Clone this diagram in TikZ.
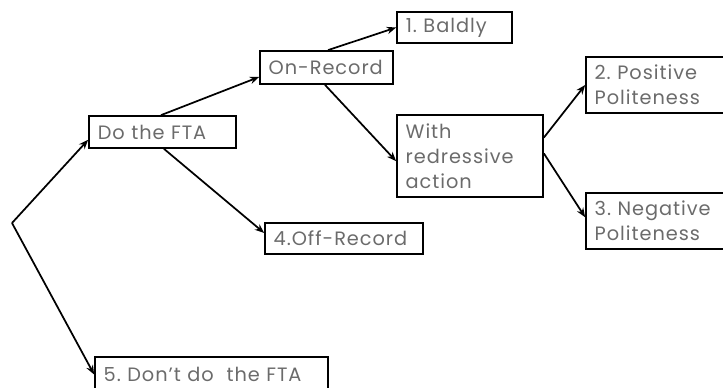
\documentclass[tikz,border=0pt]{standalone}
\usepackage{fontspec}
\setmainfont{Poppins}[LetterSpace=5]
\usepackage{tikz}
\usetikzlibrary{arrows.meta}
\frenchspacing

\tikzset{
  strat/.style={draw=black, line width=1.3pt, rectangle, align=left, inner xsep=6.5pt, inner ysep=0pt,
    text=black!58, font=\fontsize{14.5}{18.75}\selectfont},
  branch/.style={draw=black, line width=1.3pt, -{Stealth[length=7pt, width=5.5pt]}}
}

\begin{document}
\begin{tikzpicture}[x=0.75pt, y=-0.75pt]
            \useasboundingbox (0,0) rectangle (723,388);
            \coordinate (root) at (12, 223);
            \node[strat, minimum width=110.25pt, minimum height=24pt, text width=97pt] (dofta) at (162.5, 132) {Do the FTA};
            \node[strat, minimum width=99.75pt, minimum height=24.75pt, text width=86.75pt] (onrec) at (326.5, 67.5) {\mbox{On-Record}};
            \node[strat, minimum width=86.25pt, minimum height=23.25pt, text width=73pt] (baldly) at (454.5, 27.5) {1. Baldly};
            \node[strat, minimum width=109.5pt, minimum height=61.5pt, text width=96.5pt] (redress) at (470, 156) {With\\redressive\\action};
            \node[strat, minimum width=106.5pt, minimum height=42pt, text width=93.5pt] (pos) at (657, 85) {2. Positive\\Politeness};
            \node[strat, minimum width=106.5pt, minimum height=42pt, text width=93.5pt] (neg) at (657, 221) {3. Negative\\Politeness};
            \node[strat, minimum width=118.5pt, minimum height=23.25pt, text width=105.5pt] (offrec) at (344, 238.5) {\mbox{4.Off-Record}};
            \node[strat, minimum width=174.75pt, minimum height=26.25pt, text width=161.75pt] (dont) at (211.5, 374.5) {5. Don't do\ \ the FTA};

            \draw[branch] (root) -- (dofta.186);
            \draw[branch] (root) -- (dont.west);
            \draw[branch] (dofta.95) -- (onrec.188);
            \draw[branch] (dofta.275) -- (offrec.176);
            \draw[branch] (onrec.85) -- (baldly.west);
            \draw[branch] (onrec.265) -- (redress.184);
            \draw[branch] (redress.14) -- (pos.west);
            \draw[branch] (redress.2) -- (neg.177);
        \end{tikzpicture}
\end{document}
